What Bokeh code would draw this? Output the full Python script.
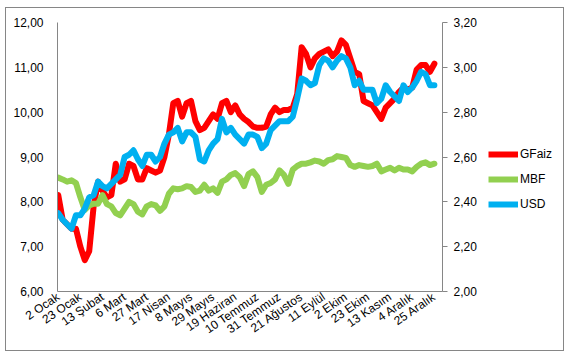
from bokeh.plotting import figure
from bokeh.layouts import row
from bokeh.models import (Range1d, LinearAxis, FixedTicker, CustomJSTickFormatter,
                          Legend, LegendItem, ColumnDataSource)
from bokeh.embed import file_html
from bokeh.resources import INLINE

# business-day index of each sample (every 3rd trading day)
day_idx = list(range(0, 256, 3))

gfaiz = [8.15, 7.60, 7.50, 7.40, 7.40, 7.00, 6.70, 6.90, 7.90, 8.45,
         8.25, 8.10, 8.15, 8.85, 8.45, 8.50, 8.85, 8.80, 8.50, 8.50,
         8.75, 8.70, 8.65, 8.70, 9.00, 9.50, 10.20, 10.25, 9.90, 10.20,
         10.25, 9.80, 9.60, 9.65, 9.80, 9.95, 9.85, 10.20, 10.25, 10.00,
         10.15, 9.95, 9.85, 9.78, 9.68, 9.65, 9.65, 9.68, 9.95, 10.10,
         10.00, 10.05, 10.05, 10.10, 10.40, 11.45, 11.30, 11.00, 11.20, 11.30,
         11.35, 11.40, 11.25, 11.35, 11.60, 11.50, 11.20, 10.90, 10.85, 10.25,
         10.20, 10.15, 10.00, 9.85, 10.10, 10.20, 10.30, 10.45, 10.55, 10.50,
         10.55, 10.95, 11.05, 11.05, 10.90, 11.08]

mbf = [8.54, 8.50, 8.45, 8.48, 8.42, 8.10, 7.82, 7.92, 7.96, 7.96,
       8.15, 7.95, 7.90, 7.75, 7.70, 7.85, 8.00, 7.95, 7.78, 7.72,
       7.90, 7.95, 7.92, 7.80, 7.90, 8.18, 8.30, 8.28, 8.30, 8.35,
       8.33, 8.22, 8.25, 8.38, 8.25, 8.30, 8.20, 8.45, 8.50, 8.60,
       8.64, 8.55, 8.35, 8.62, 8.68, 8.55, 8.22, 8.38, 8.42, 8.50,
       8.70, 8.60, 8.40, 8.72, 8.80, 8.85, 8.85, 8.88, 8.92, 8.90,
       8.85, 8.93, 8.95, 9.02, 9.00, 8.98, 8.82, 8.78, 8.82, 8.80,
       8.78, 8.80, 8.85, 8.68, 8.72, 8.76, 8.70, 8.76, 8.72, 8.72,
       8.68, 8.78, 8.85, 8.88, 8.82, 8.85]

usd = [2.35, 2.32, 2.30, 2.28, 2.34, 2.34, 2.37, 2.42, 2.43, 2.49,
       2.47, 2.46, 2.48, 2.50, 2.52, 2.60, 2.61, 2.63, 2.59, 2.56,
       2.61, 2.61, 2.58, 2.60, 2.66, 2.70, 2.71, 2.73, 2.67, 2.71,
       2.71, 2.69, 2.59, 2.58, 2.63, 2.66, 2.68, 2.77, 2.71, 2.73,
       2.70, 2.68, 2.66, 2.70, 2.70, 2.69, 2.64, 2.66, 2.72, 2.74,
       2.76, 2.76, 2.76, 2.78, 2.86, 2.95, 2.94, 2.92, 2.93, 3.01,
       3.04, 3.03, 3.00, 3.03, 3.05, 3.04, 3.00, 2.92, 2.94, 2.90,
       2.90, 2.90, 2.84, 2.86, 2.92, 2.89, 2.87, 2.85, 2.92, 2.89,
       2.91, 2.94, 2.98, 2.97, 2.92, 2.92]

tick_idx = list(range(0, 256, 15))
tick_labels = ["2 Ocak", "23 Ocak", "13 Şubat", "6 Mart", "27 Mart", "17 Nisan",
               "8 Mayıs", "29 Mayıs", "19 Haziran", "10 Temmuz", "31 Temmuz",
               "21 Ağustos", "11 Eylül", "2 Ekim", "23 Ekim", "13 Kasım",
               "4 Aralık", "25 Aralık"]

left_ticks = [6, 7, 8, 9, 10, 11, 12]
right_ticks = [2.0, 2.2, 2.4, 2.6, 2.8, 3.0, 3.2]

FONT = "Liberation Sans"
AXIS_COL = "#868686"

src = ColumnDataSource(dict(x=day_idx, gfaiz=gfaiz, mbf=mbf, usd=usd))

# ---------------- main chart ----------------
p = figure(width=476, height=342, output_backend="svg", toolbar_location=None,
           x_range=Range1d(-0.5, 260.5), y_range=Range1d(6, 12),
           min_border_left=51, min_border_top=14, min_border_right=40,
           min_border_bottom=59)
p.extra_y_ranges = {"usd": Range1d(2.0, 3.2)}
p.xgrid.visible = False
p.ygrid.visible = False
p.outline_line_color = None
p.background_fill_color = "white"
p.border_fill_color = "white"

fmt = CustomJSTickFormatter(code="return tick.toFixed(2).replace('.', ',');")

ya = p.yaxis[0]
ya.ticker = FixedTicker(ticks=left_ticks)
ya.formatter = fmt
ya.axis_line_color = AXIS_COL
ya.major_tick_line_color = None
ya.major_tick_out = 0
ya.major_tick_in = 0
ya.minor_tick_line_color = None
ya.minor_tick_out = 0
ya.major_label_standoff = 14
ya.major_label_text_font = FONT
ya.major_label_text_font_size = "12px"
ya.major_label_text_color = "black"

xa = p.xaxis[0]
xa.ticker = FixedTicker(ticks=tick_idx)
xa.major_label_overrides = {t: l for t, l in zip(tick_idx, tick_labels)}
xa.axis_line_color = AXIS_COL
xa.major_tick_line_color = None
xa.major_tick_out = 0
xa.major_tick_in = 0
xa.minor_tick_line_color = None
xa.minor_tick_out = 0
xa.major_label_orientation = 0.6
xa.major_label_standoff = 4
xa.major_label_text_font = FONT
xa.major_label_text_font_size = "12px"
xa.major_label_text_color = "black"

ra = LinearAxis(y_range_name="usd", ticker=FixedTicker(ticks=right_ticks), formatter=fmt)
ra.axis_line_color = AXIS_COL
ra.major_tick_line_color = AXIS_COL
ra.major_tick_out = 5
ra.major_tick_in = 0
ra.minor_tick_line_color = None
ra.minor_tick_out = 0
ra.major_label_standoff = 6
ra.major_label_text_font = FONT
ra.major_label_text_font_size = "12px"
ra.major_label_text_color = "black"
p.add_layout(ra, "right")

styles = dict(gfaiz="#FF0000", mbf="#92D050", usd="#00B0F0")

r1 = p.line("x", "gfaiz", source=src, line_color=styles["gfaiz"], line_width=6,
            line_join="round", line_cap="round")
r2 = p.line("x", "mbf", source=src, line_color=styles["mbf"], line_width=6,
            line_join="round", line_cap="round")
r3 = p.line("x", "usd", source=src, y_range_name="usd", line_color=styles["usd"],
            line_width=6, line_join="round", line_cap="round")

# ---------------- legend panel ----------------
q = figure(width=81, height=342, output_backend="svg", toolbar_location=None,
           x_axis_location=None, y_axis_location=None, min_border=0,
           x_range=Range1d(0, 1), y_range=Range1d(0, 1))
q.xgrid.visible = False
q.ygrid.visible = False
q.outline_line_color = None
q.background_fill_color = "white"
q.border_fill_color = "white"

l1 = q.line("x", "gfaiz", source=src, line_color=styles["gfaiz"], line_width=6, visible=False)
l2 = q.line("x", "mbf", source=src, line_color=styles["mbf"], line_width=6, visible=False)
l3 = q.line("x", "usd", source=src, line_color=styles["usd"], line_width=6, visible=False)

legend = Legend(items=[LegendItem(label="GFaiz", renderers=[l1]),
                       LegendItem(label="MBF", renderers=[l2]),
                       LegendItem(label="USD", renderers=[l3])],
                location=(6, 77), orientation="vertical",
                glyph_width=30, glyph_height=20, label_height=20,
                label_standoff=2, spacing=5, padding=0, margin=0,
                border_line_color=None, background_fill_alpha=0,
                inactive_fill_alpha=0,
                label_text_font=FONT, label_text_font_size="12px",
                label_text_color="black")
q.add_layout(legend, "center")

layout = row(p, q, spacing=0)
layout.margin = (7, 0, 0, 5)
layout.styles = {"border": "1px solid #868686", "background-color": "white"}

open("out.html", "w").write(file_html(layout, INLINE))
